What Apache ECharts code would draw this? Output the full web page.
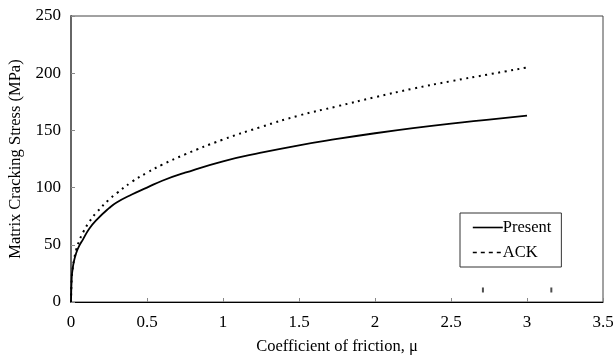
<!DOCTYPE html>
<html>
<head>
<meta charset="utf-8">
<script src="https://cdn.jsdelivr.net/npm/echarts@6/dist/echarts.min.js"></script>
<style>html,body{margin:0;padding:0;background:#fff}#c{width:613px;height:362px}</style>
</head>
<body>
<div id="c"></div>
<script>
var mu = [0, 0.005, 0.01, 0.02, 0.035, 0.05, 0.08, 0.12, 0.17, 0.25, 0.3, 0.4, 0.5, 0.6, 0.75, 1.0, 1.25, 1.5, 1.75, 2.0, 2.25, 2.5, 2.75, 3.0];
var present = [0, 22, 28, 36, 43, 48, 55, 64, 72, 82, 87, 94, 100, 106, 113, 123, 130.5, 137, 142.5, 147.5, 152, 156, 159.5, 163];
var ack = [0, 22, 28, 37, 46, 52, 61, 70, 78.5, 89.5, 95, 105, 113, 120, 129, 142, 153, 163, 171, 179, 186.5, 193, 199, 205];
var strayX = [2.71, 3.16];
var strayY = [10.5, 10.5];
var xTicks = [0, 0.5, 1, 1.5, 2, 2.5, 3, 3.5];
var yTicks = [0, 50, 100, 150, 200, 250];

function pairs(xs, ys) { return xs.map(function (x, i) { return [x, ys[i]]; }); }

var font = 'Liberation Serif';
var chart = echarts.init(document.getElementById('c'), null, { renderer: 'canvas' });
chart.setOption({
  animation: false,
  backgroundColor: '#fff',
  textStyle: { fontFamily: font, color: '#000' },
  grid: { left: 71, right: 10, top: 16, bottom: 60, show: true, borderColor: '#444', borderWidth: 1,
    containLabel: false, outerBoundsMode: 'none' },
  xAxis: {
    type: 'value', min: 0, max: 3.5, interval: 0.5,
    name: 'Coefficient of friction, μ', nameLocation: 'middle', nameGap: 36,
    nameTextStyle: { fontFamily: font, fontSize: 16.5, color: '#000' },
    axisLine: { show: true, onZero: false, lineStyle: { color: '#000', width: 1 } },
    axisTick: { show: true, inside: true, length: 4, lineStyle: { color: '#888' } },
    axisLabel: { fontFamily: font, fontSize: 17, color: '#000', margin: 12,
      formatter: function (v) { return xTicks.indexOf(v) >= 0 ? String(v) : ''; } },
    splitLine: { show: false }
  },
  yAxis: [{
    type: 'value', min: 0, max: 250, interval: 50,
    name: 'Matrix Cracking Stress (MPa)', nameLocation: 'middle', nameGap: 45,
    nameTextStyle: { fontFamily: font, fontSize: 16.5, color: '#000' },
    axisLine: { show: true, onZero: false, lineStyle: { color: '#000', width: 1 } },
    axisTick: { show: true, inside: true, length: 4, lineStyle: { color: '#888' } },
    axisLabel: { fontFamily: font, fontSize: 17, color: '#000', margin: 10,
      formatter: function (v) { return yTicks.indexOf(v) >= 0 ? String(v) : ''; } },
    splitLine: { show: false }
  }, {
    type: 'value', min: 0, max: 250, position: 'right',
    axisLine: { show: true, lineStyle: { color: '#666', width: 2 } },
    axisTick: { show: false }, axisLabel: { show: false }, splitLine: { show: false }
  }],
  legend: {
    left: 460, top: 213, width: 108, height: 52,
    orient: 'vertical', itemGap: 8, itemWidth: 30, itemHeight: 12,
    padding: [6, 10, 6, 12],
    borderColor: '#333', borderWidth: 1, backgroundColor: '#fff',
    itemStyle: { opacity: 0 },
    textStyle: { fontFamily: font, fontSize: 16.5, color: '#000', padding: [0, 0, 0, -5] },
    data: [
      { name: 'Present', lineStyle: { type: 'solid', width: 1.6, color: '#000' } },
      { name: 'ACK', lineStyle: { type: [4, 4], width: 1.6, color: '#000' } }
    ]
  },
  series: [{
    name: 'Present', type: 'line', data: pairs(mu, present), smooth: true,
    showSymbol: false, symbol: 'none',
    lineStyle: { color: '#000', width: 1.8, type: 'solid' }, itemStyle: { color: '#000' }
  }, {
    name: 'ACK', type: 'line', data: pairs(mu, ack), smooth: true,
    showSymbol: false, symbol: 'none',
    lineStyle: { color: '#000', width: 2, type: [2, 4.5] }, itemStyle: { color: '#000' }
  }, {
    name: 'marks', type: 'scatter', data: pairs(strayX, strayY),
    symbol: 'rect', symbolSize: [2, 5], itemStyle: { color: '#222' }, silent: true
  }]
});
</script>
</body>
</html>
